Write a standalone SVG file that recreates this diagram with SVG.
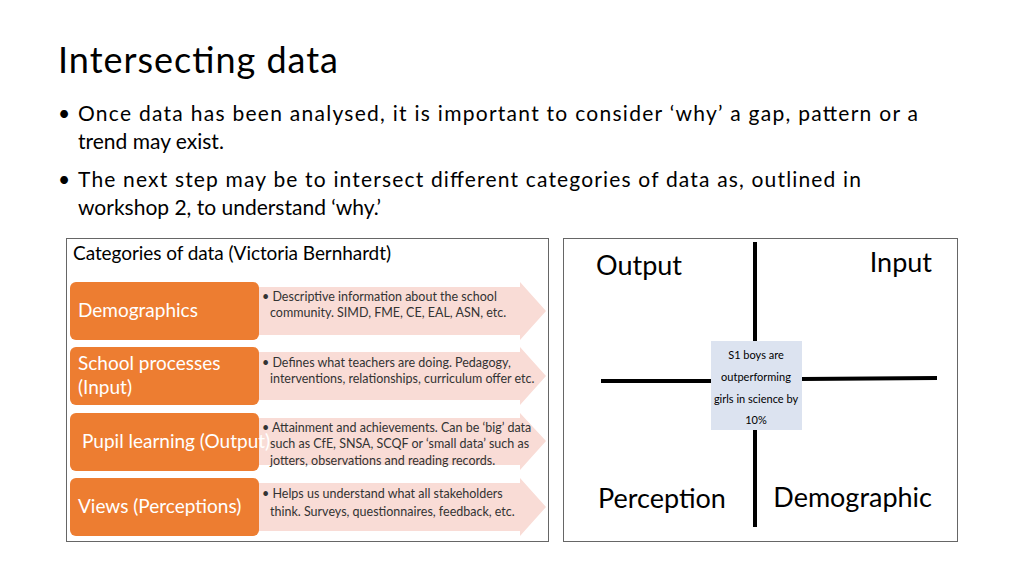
<svg xmlns="http://www.w3.org/2000/svg" width="1024" height="576" viewBox="0 0 1024 576">
<style>
text{font-family:Lato,"Open Sans",sans-serif;fill:#000}
.org{fill:#ed7d31}
.pk{fill:#f9dcd6}
.lbl{fill:#fff;font-size:19px}
.dsc{font-size:12.5px;fill:#333}
.q{font-size:27px}
.ln{stroke:#000;stroke-width:4}
</style>
<rect width="1024" height="576" fill="#fff"/>
<g id="title"><text x="58" y="73" font-size="36" textLength="280">Intersecting data</text></g>
<g id="bullets" font-size="21">
<text x="58" y="121">•</text><text x="78" y="121" textLength="840">Once data has been analysed, it is important to consider ‘why’ a gap, pattern or a</text>
<text x="78" y="149">trend may exist.</text>
<text x="58" y="187">•</text><text x="78" y="187" textLength="783">The next step may be to intersect different categories of data as, outlined in</text>
<text x="78" y="215">workshop 2, to understand ‘why.’</text>
</g>
<g id="left">
<rect x="66.5" y="238.5" width="482" height="303" fill="#fff" stroke="#666"/>
<text x="73" y="260" font-size="19" textLength="318">Categories of data (Victoria Bernhardt)</text>
<g id="r1"><path class="pk" d="M250 287H520V282L546 311L520 340V335H250Z"/><rect class="org" x="70" y="282" width="189" height="58" rx="6"/><text class="lbl" x="78" y="317">Demographics</text><text class="dsc" x="262" y="301">• Descriptive information about the school</text><text class="dsc" x="270" y="317">community. SIMD, FME, CE, EAL, ASN, etc.</text></g>
<g id="r2"><path class="pk" d="M250 352H520V347L546 376L520 405V400H250Z"/><rect class="org" x="70" y="347" width="189" height="58" rx="6"/><text class="lbl" x="78" y="370">School processes</text><text class="lbl" x="78" y="394">(Input)</text><text class="dsc" x="262" y="367">• Defines what teachers are doing. Pedagogy,</text><text class="dsc" x="270" y="383">interventions, relationships, curriculum offer etc.</text></g>
<g id="r3"><path class="pk" d="M250 418H520V413L546 441L520 470V465H250Z"/><rect class="org" x="70" y="413" width="189" height="58" rx="6"/><text class="lbl" x="82" y="448">Pupil learning (Output)</text><text class="dsc" x="262" y="432">• Attainment and achievements. Can be ‘big’ data</text><text class="dsc" x="270" y="448">such as CfE, SNSA, SCQF or ‘small data’ such as</text><text class="dsc" x="270" y="465">jotters, observations and reading records.</text></g>
<g id="r4"><path class="pk" d="M250 483H520V478L546 507L520 536V531H250Z"/><rect class="org" x="70" y="478" width="189" height="58" rx="6"/><text class="lbl" x="78" y="513">Views (Perceptions)</text><text class="dsc" x="262" y="498">• Helps us understand what all stakeholders</text><text class="dsc" x="270" y="516">think. Surveys, questionnaires, feedback, etc.</text></g>
</g>
<g id="right">
<rect x="563.5" y="238.5" width="394" height="303" fill="#fff" stroke="#666"/>
<g id="axes"><line class="ln" x1="755" y1="242" x2="755" y2="341"/><line class="ln" x1="755" y1="429" x2="755" y2="527"/><line class="ln" x1="601" y1="381" x2="711" y2="381"/><line class="ln" x1="802" y1="379" x2="937" y2="378"/></g>
<g id="centre"><rect x="711" y="341" width="91" height="89" fill="#dce3f0"/>
<g font-family="Liberation Sans,Arial,sans-serif" font-size="11" text-anchor="middle"><text x="756" y="359">S1 boys are</text><text x="756" y="381">outperforming</text><text x="756" y="403">girls in science by</text><text x="756" y="424">10%</text></g></g>
<text class="q" x="596" y="275">Output</text>
<text class="q" x="932" y="272" text-anchor="end">Input</text>
<text class="q" x="598" y="508">Perception</text>
<text class="q" x="932" y="507" text-anchor="end">Demographic</text>
</g>
</svg>
